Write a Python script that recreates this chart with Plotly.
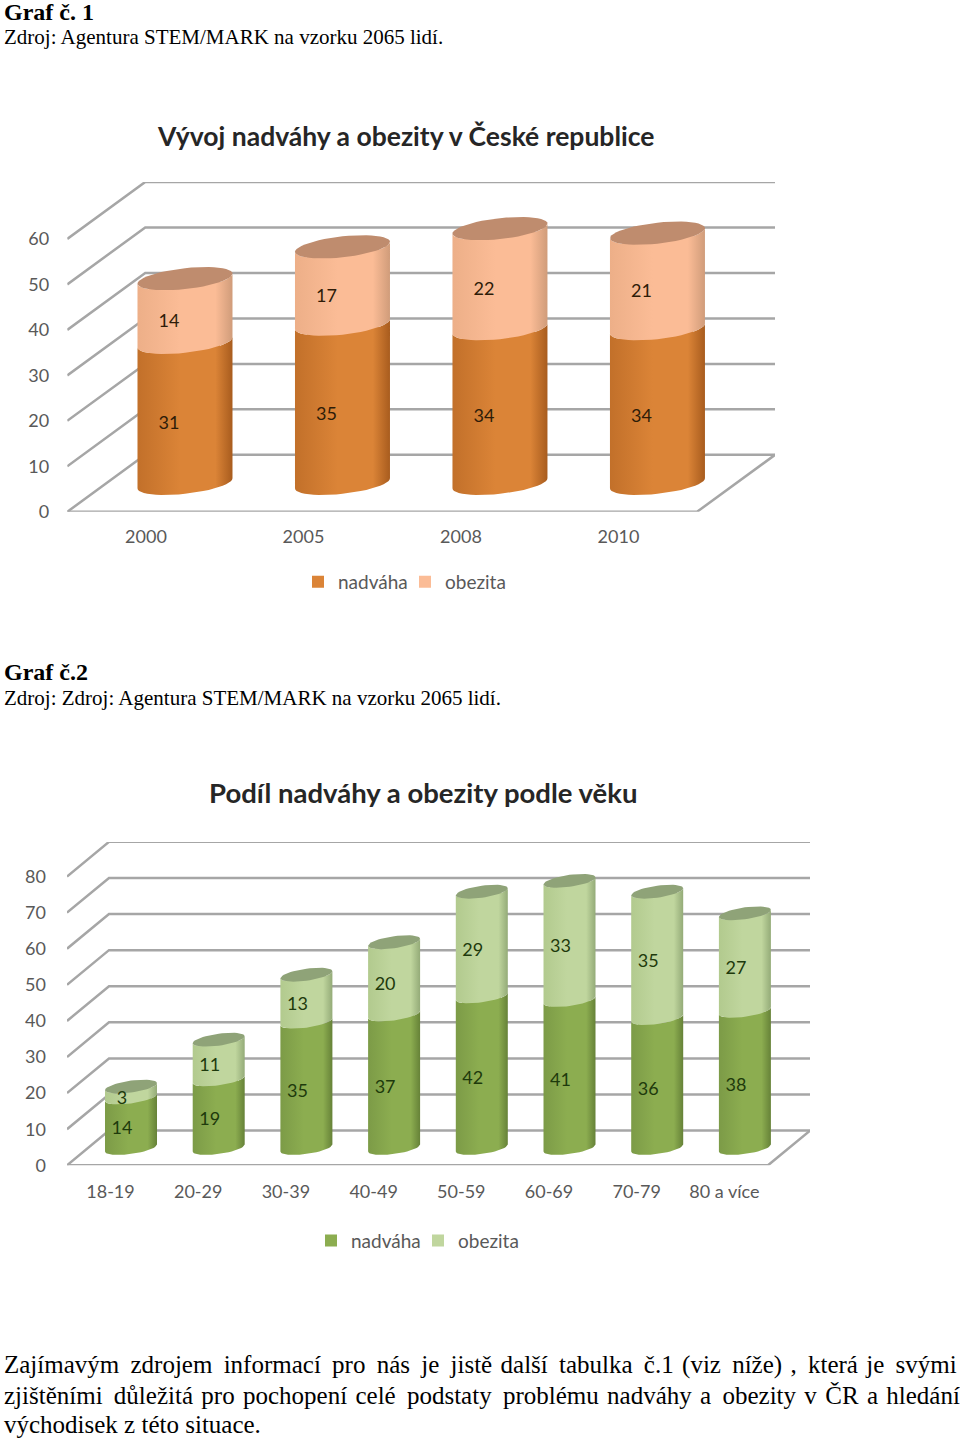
import numpy as np
import plotly.graph_objects as go

# ---------- data ----------
years = ["2000", "2005", "2008", "2010"]
c1_over = [31, 35, 34, 34]
c1_obese = [14, 17, 22, 21]
c1_ticks = [0, 10, 20, 30, 40, 50, 60]

ages = ["18-19", "20-29", "30-39", "40-49", "50-59", "60-69", "70-79", "80 a více"]
c2_over = [14, 19, 35, 37, 42, 41, 36, 38]
c2_obese = [3, 11, 13, 20, 29, 33, 35, 27]
c2_ticks = [0, 10, 20, 30, 40, 50, 60, 70, 80]

series_names = ["nadváha", "obezita"]
title1 = "Vývoj nadváhy a obezity v České republice"
title2 = "Podíl nadváhy a obezity podle věku"

W, H = 960, 1438
Y_SCALE = 1428.5  # effective page height used for pixel -> paper mapping
GRID = "#A6A6A6"
TXT = "#595959"
LAB = "Lato"
SERIF = "Liberation Serif"

fig = go.Figure()


def dom(px0, px1):
    return [1 - px1 / Y_SCALE, 1 - px0 / Y_SCALE]


def chart(cats, lo, hi, ticks, xa, ya, xr, depth_x, depth_v,
          bar_x, half_w, tilt_v, h_v, colors, caps, legend, txt_dx, txt_dv, fs):
    n = len(cats)
    idx = np.arange(n)
    c_over, c_ob = colors
    # real stacked bars (slightly narrower, the shaded cylinder sits over them)
    fig.add_trace(go.Bar(x=idx + bar_x, y=lo, base=[depth_v / 2] * n, width=half_w * 1.5,
                         marker=dict(color=c_over[1], line_width=0), name=series_names[0],
                         xaxis=xa, yaxis=ya, legend=legend, hoverinfo="skip"))
    fig.add_trace(go.Bar(x=idx + bar_x, y=hi, base=[depth_v / 2 + v for v in lo], width=half_w * 1.5,
                         marker=dict(color=c_ob[1], line_width=0), name=series_names[1],
                         xaxis=xa, yaxis=ya, legend=legend, hoverinfo="skip"))
    # grid in oblique projection
    x_l, x_r = xr[0], xr[1]
    xb = x_l + depth_x
    gx, gy = [], []
    for t in ticks:
        gx += [x_l, xb, x_r, None]
        gy += [t, t + depth_v, t + depth_v, None]
    gx += [x_l, x_r - depth_x, x_r, None]
    gy += [0, 0, depth_v, None]
    fig.add_trace(go.Scatter(x=gx, y=gy, mode="lines", line=dict(color=GRID, width=2.5),
                             xaxis=xa, yaxis=ya, showlegend=False, hoverinfo="skip"))

    # cylinders
    t_front = np.linspace(np.pi, 2 * np.pi, 25)
    t_all = np.linspace(0, 2 * np.pi, 49)
    for i in range(n):
        cx = i + bar_x
        base = depth_v / 2

        def arc(t, v):
            return cx + half_w * np.cos(t), v + tilt_v * np.cos(t) + h_v * np.sin(t)

        segs = [(base, base + lo[i], c_over), (base + lo[i], base + lo[i] + hi[i], c_ob)]
        for a, b, col in segs:
            xa0, ya0 = arc(t_front, a)
            xa1, ya1 = arc(t_front[::-1], b)
            fig.add_trace(go.Scatter(
                x=np.r_[xa0, xa1, xa0[0]], y=np.r_[ya0, ya1, ya0[0]], mode="lines",
                line=dict(width=0), fill="toself",
                fillgradient=dict(type="horizontal", colorscale=[[0, col[0]], [0.45, col[1]], [0.82, col[1]], [1, col[2]]]),
                xaxis=xa, yaxis=ya, showlegend=False, hoverinfo="skip"))
        xc, yc = arc(t_all, base + lo[i] + hi[i])
        fig.add_trace(go.Scatter(x=xc, y=yc, mode="lines", line=dict(width=0), fill="toself",
                                 fillcolor=caps, xaxis=xa, yaxis=ya, showlegend=False, hoverinfo="skip"))
    # value labels
    tx = list(idx + txt_dx) * 2
    ty = [v / 2 + txt_dv for v in lo] + [l + v / 2 + txt_dv for l, v in zip(lo, hi)]
    fig.add_trace(go.Scatter(x=tx, y=ty, mode="text", text=[str(v) for v in lo + hi],
                             textfont=dict(family=LAB, size=fs, color="#2E1C08" if legend == "legend" else "#1E3A0C"),
                             xaxis=xa, yaxis=ya, showlegend=False, hoverinfo="skip"))


orange = (("#C2702A", "#DB8437", "#A85C1E"), ("#EDAF88", "#FBBC96", "#D09C7A"))
green = (("#7C9B47", "#8CAD50", "#668238"), ("#B2CA8E", "#C0D69E", "#94AB78"))

U1 = 4.55
chart(years, c1_over, c1_obese, c1_ticks, "x", "y", [-0.5, 3.994],
      78 / 157.5, 57 / U1, 39 / 157.5, 47.5 / 157.5, 5 / U1, 10.5 / U1, orange, "#BF8C6E", "legend",
      23 / 157.5, 3.7, 18)
U2 = 3.61
chart(ages, c2_over, c2_obese, c2_ticks, "x2", "y2", [-0.496, 7.976],
      42 / 87.7, 34.7 / U2, 20.5 / 87.7, 26 / 87.7, 3.5 / U2, 6 / U2, green, "#8FA378", "legend2",
      11.5 / 87.7, 2.8, 18)

axis_font = dict(family=LAB, size=18, color=TXT)
legend_font = dict(family=LAB, size=19, color=TXT)
fig.update_layout(
    width=W, height=H, margin=dict(l=0, r=0, t=0, b=0), paper_bgcolor="white", plot_bgcolor="rgba(0,0,0,0)",
    barmode="overlay", bargap=0,
    xaxis=dict(domain=[67.25 / W, 775 / W], range=[-0.5, 3.994], tickvals=list(range(4)), ticktext=years,
               showgrid=False, zeroline=False, showline=False, ticks="", ticklabelstandoff=12, tickfont=axis_font, anchor="y"),
    yaxis=dict(domain=dom(182, 512), range=[0, 72.53], tickvals=c1_ticks, showgrid=False, zeroline=False,
               showline=False, ticks="", ticklabelstandoff=17, tickfont=axis_font, anchor="x"),
    xaxis2=dict(domain=[67 / W, 810 / W], range=[-0.496, 7.976], tickvals=list(range(8)), ticktext=ages,
                showgrid=False, zeroline=False, showline=False, ticks="", ticklabelstandoff=14, tickfont=axis_font, anchor="y2"),
    yaxis2=dict(domain=dom(842.2, 1165.7), range=[0, 89.6], tickvals=c2_ticks, showgrid=False, zeroline=False,
                showline=False, ticks="", ticklabelstandoff=20, tickfont=axis_font, anchor="x2"),
    legend=dict(orientation="h", x=298 / W, xanchor="left", y=1 - 582 / Y_SCALE, yanchor="middle",
                font=legend_font, itemwidth=30, entrywidth=62, bgcolor="rgba(0,0,0,0)"),
    legend2=dict(orientation="h", x=311 / W, xanchor="left", y=1 - 1241 / Y_SCALE, yanchor="middle",
                 font=legend_font, itemwidth=30, entrywidth=62, bgcolor="rgba(0,0,0,0)"),
)


def note(text, x, y, size=21, color="black", family=SERIF):
    fig.add_annotation(text=text, xref="paper", yref="paper", x=x / W, y=1 - y / Y_SCALE, xanchor="left", yanchor="middle",
                       showarrow=False, align="left", font=dict(family=family, size=size, color=color),
                       borderpad=0, borderwidth=0)


THIN = " \u2009"
HAIR = " \u200a"
line1 = "Zajímavým zdrojem informací pro nás je jistě další tabulka č.1 (viz níže) , která je svými"
line2 = "zjištěními důležitá pro pochopení celé podstaty problému nadváhy a obezity v ČR a hledání"
line3 = "východisek z této situace."


def justify(line, wide_gaps, wide, narrow):
    words = line.split(" ")
    out = words[0]
    for i, w in enumerate(words[1:]):
        out += (wide if i in wide_gaps else narrow) + w
    return out


note("<b>Graf č. 1</b>", 4, 12, 24)
note("Zdroj: Agentura STEM/MARK na vzorku 2065 lidí.", 4, 37)
note("<b>Graf č.2</b>", 4, 672, 24)
note("Zdroj: Zdroj: Agentura STEM/MARK na vzorku 2065 lidí.", 4, 698)
note("<b>" + title1 + "</b>", 157, 136, 26.5, "#262626", LAB)
note("<b>" + title2 + "</b>", 209, 793, 27.5, "#262626", LAB)
note(justify(line1, {0, 1, 2, 3, 4, 5, 7, 8, 10, 12, 14}, THIN, HAIR), 4, 1365, 25)
note(justify(line2, {0, 4, 5, 8}, THIN, HAIR), 4, 1396, 25)
note(line3, 4, 1425, 25)

fig.write_html("out.html", post_script="document.body.style.margin='0';", config={"displayModeBar": False})
